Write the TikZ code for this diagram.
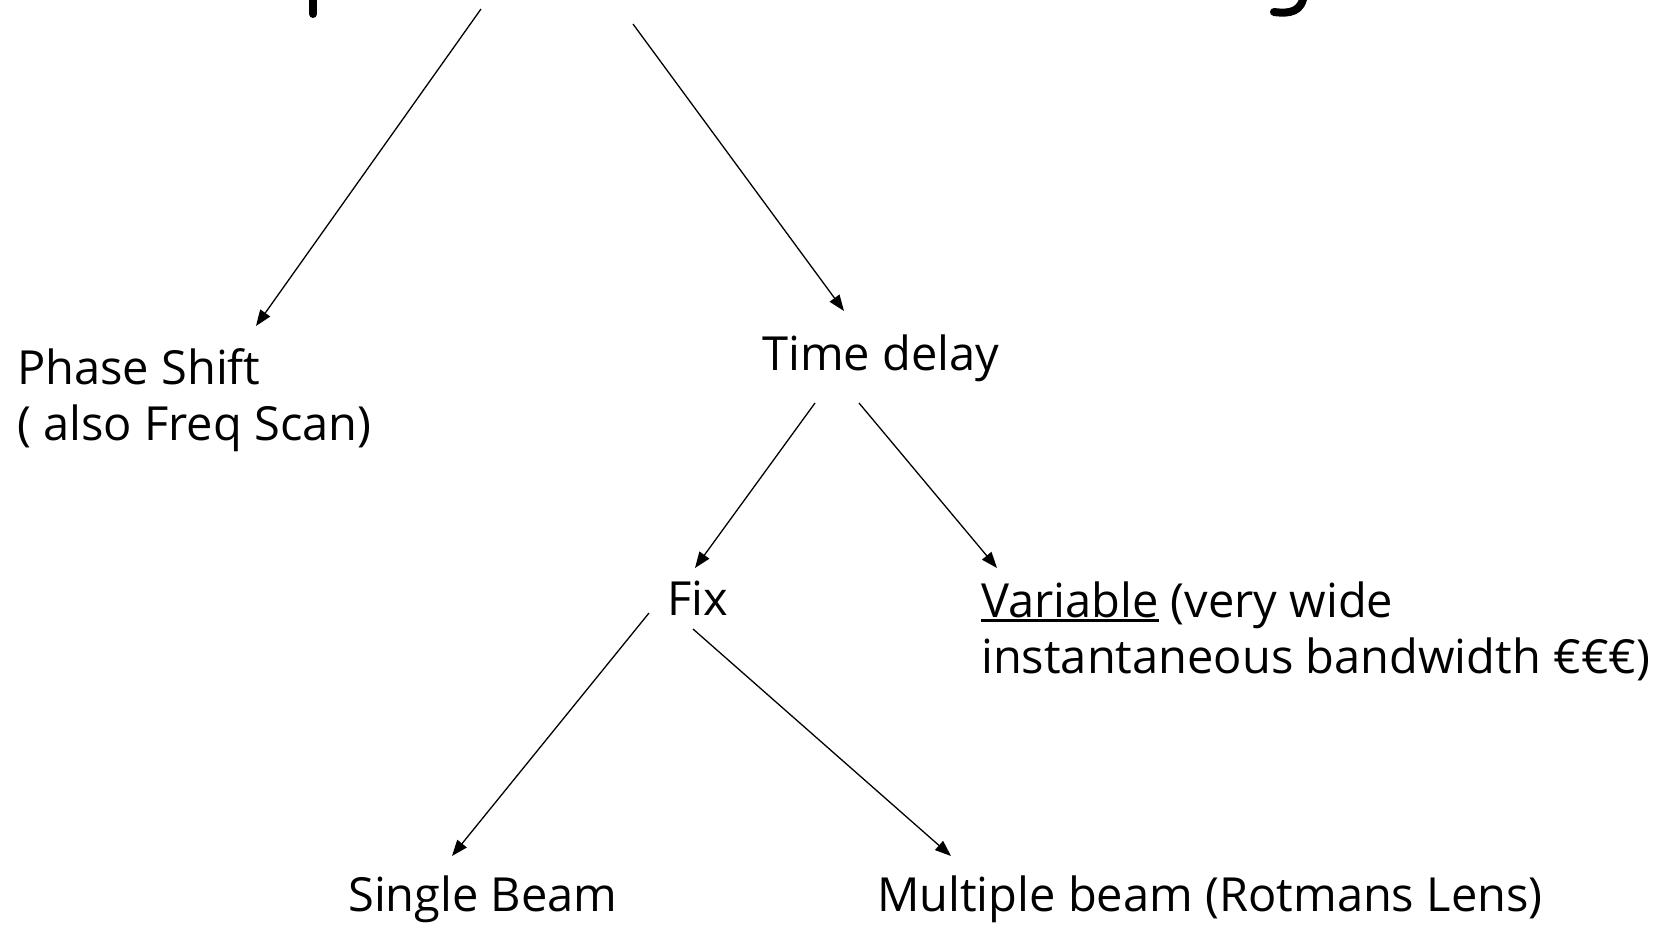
\documentclass[tikz,border=0pt]{standalone}
\usepackage{fontspec}
\setmainfont{Open Sans}
\usetikzlibrary{arrows.meta}
\newcommand\thickul[1]{\setbox0\hbox{#1}\rlap{\rule[-5pt]{\wd0}{2.6pt}}\box0\relax}
\begin{document}
\begin{tikzpicture}[x=1pt,y=-1pt,
  lbl/.style={inner sep=0pt, anchor=base west, font=\fontsize{47}{56}\selectfont, align=left},
  conn/.style={line width=1.3pt, -{Triangle[length=16pt,width=12pt]}},
  frag/.style={line width=8pt, line cap=round}]
\useasboundingbox (0,0) rectangle (1674,929);
\fill[white] (0,0) rectangle (1674,929);
% cropped title fragments at the top edge
\draw[frag] (313,-6) -- (313,14);
\draw[frag] (1304,-6) .. controls (1302,12) and (1290,14) .. (1274,12);
% texts (multi-line nodes: base = last line)
\node[lbl] (phase) at (17,440) {Phase Shift\\( also Freq Scan)};
\node[lbl] (time) at (762,370) {Time delay};
\node[lbl] (fix) at (667,615) {Fix};
\node[lbl] (var) at (981,673) {\thickul{Variable} (very wide\\instantaneous bandwidth €€€)};
\node[lbl] (single) at (348,911) {Single Beam};
\node[lbl] (multi) at (877,911) {Multiple beam (Rotmans Lens)};
% connector ends
\coordinate (titleL) at (481,9);
\coordinate (titleR) at (633,24);
\coordinate (phaseIn) at (256,326);
\coordinate (timeIn) at (844,311);
\coordinate (timeOutL) at (815,403);
\coordinate (timeOutR) at (859,403);
\coordinate (fixIn) at (695,568);
\coordinate (varIn) at (997,568);
\coordinate (fixOutL) at (649,613);
\coordinate (fixOutR) at (693,629);
\coordinate (singleIn) at (452,856);
\coordinate (multiIn) at (951,856);
% connectors
\draw[conn] (titleL) -- (phaseIn);
\draw[conn] (titleR) -- (timeIn);
\draw[conn] (timeOutL) -- (fixIn);
\draw[conn] (timeOutR) -- (varIn);
\draw[conn] (fixOutL) -- (singleIn);
\draw[conn] (fixOutR) -- (multiIn);
\end{tikzpicture}
\end{document}
